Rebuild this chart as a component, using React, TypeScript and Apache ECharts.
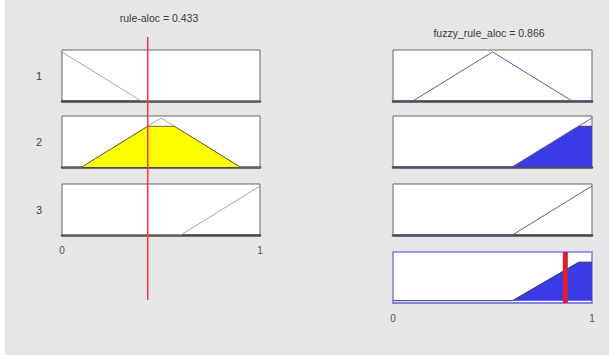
import React, { useEffect, useRef } from "react";
import * as echarts from "echarts";

// Input membership functions (rule-aloc), x in [0,1], y = membership degree
const inputMF1: number[][] = [[0, 1], [0.4, 0], [1, 0]];
const inputMF2: number[][] = [[0, 0], [0.1, 0], [0.5, 1], [0.9, 0], [1, 0]];
const inputMF3: number[][] = [[0, 0], [0.6, 0], [1, 1]];

// Output membership functions (fuzzy_rule_aloc)
const outputMF1: number[][] = [[0, 0], [0.1, 0], [0.5, 1], [0.9, 0], [1, 0]];
const outputMF2: number[][] = [[0, 0], [0.6, 0], [1, 1]];
const outputMF3: number[][] = [[0, 0], [0.6, 0], [1, 1]];

// Crisp values
const inputValue = 0.433;
const outputValue = 0.866;

// Rule 2 fires at 0.83: clipped input area, clipped output area, aggregate
const rule2InputFill: number[][] = [[0.1, 0], [0.433, 0.83], [0.567, 0.83], [0.9, 0]];
const rule2OutputFill: number[][] = [[0.6, 0], [0.933, 0.83], [1, 0.83]];
const aggregateFill: number[][] = [[0, 0], [0.6, 0], [0.933, 0.83], [1, 0.83]];

const ruleLabels = ["1", "2", "3"];
const tickLabels = ["0", "1"];

const FONT = "Liberation Sans, Arial, sans-serif";
const IN_LINE = "#aca882";
const OUT_LINE = "#5c5cb0";
const BLUE = "#3a3ae6";
const YELLOW = "#ffff00";

export default function App() {
  const ref = useRef<HTMLDivElement>(null);

  useEffect(() => {
    if (!ref.current) return;
    const chart = echarts.init(ref.current, null, { renderer: "svg" });

    const panels = [
      { left: 62, top: 50, width: 198, height: 51 },
      { left: 62, top: 116, width: 198, height: 51 },
      { left: 62, top: 184, width: 198, height: 51 },
      { left: 393, top: 50, width: 199, height: 51 },
      { left: 393, top: 116, width: 199, height: 51 },
      { left: 393, top: 184, width: 199, height: 51 },
      { left: 393, top: 252, width: 199, height: 51 },
    ];

    const grid: any[] = panels.map((p, i) => ({
      ...p,
      show: true,
      backgroundColor: "#ffffff",
      borderColor: i === 6 ? "#7c7ce2" : "#666666",
      borderWidth: i === 6 ? 1.5 : 1,
    }));
    // marker grid for the input line that spans the input column
    grid.push({ left: 62, top: 37, width: 198, height: 263, show: false });

    const xAxis: any[] = panels.map((_, i) => ({
      type: "value",
      gridIndex: i,
      min: 0,
      max: 1,
      interval: 1,
      axisLine: {
        show: true,
        onZero: false,
        lineStyle: i === 6 ? { color: "#7c7ce2", width: 1.5 } : { color: "#4a4a4a", width: 2.5 },
      },
      axisTick: { show: false },
      splitLine: { show: false },
      axisLabel: {
        show: i === 2 || i === 6,
        color: "#555",
        fontSize: 10,
        fontFamily: FONT,
        margin: 10,
        formatter: (v: number) => (v === 0 ? tickLabels[0] : tickLabels[1]),
      },
    }));
    xAxis.push({ type: "value", gridIndex: 7, min: 0, max: 1, show: false });

    const yAxis: any[] = panels.map((_, i) => ({
      type: "value",
      gridIndex: i,
      min: i === 6 ? -0.05 : 0,
      max: i === 6 ? 1.05 : 1.04,
      axisLine: { show: false },
      axisTick: { show: false },
      axisLabel: { show: false },
      splitLine: { show: false },
      name: i < 3 ? ruleLabels[i] : "",
      nameLocation: "middle",
      nameRotate: 0,
      nameGap: 20,
      nameTextStyle: { color: "#444", fontSize: 11, fontFamily: FONT },
    }));
    yAxis.push({ type: "value", gridIndex: 7, min: 0, max: 1, show: false });

    const line = (idx: number, data: number[][], color: string, width = 1) => ({
      type: "line",
      xAxisIndex: idx,
      yAxisIndex: idx,
      data,
      symbol: "none",
      silent: true,
      lineStyle: { color, width },
    });
    const fill = (idx: number, data: number[][], color: string, edge: string) => ({
      type: "line",
      xAxisIndex: idx,
      yAxisIndex: idx,
      data,
      symbol: "none",
      silent: true,
      lineStyle: { color: edge, width: 1 },
      areaStyle: { color, opacity: 1, origin: 0 },
    });

    const series: any[] = [
      line(0, inputMF1, IN_LINE),
      line(1, inputMF2, IN_LINE),
      fill(1, rule2InputFill, YELLOW, "#6b6b3e"),
      line(2, inputMF3, IN_LINE),
      line(3, outputMF1, OUT_LINE),
      fill(4, rule2OutputFill, BLUE, "#30308a"),
      line(4, outputMF2, OUT_LINE),
      line(5, outputMF3, OUT_LINE),
      fill(6, aggregateFill, BLUE, "#33335a"),
      line(6, [[outputValue, -0.05], [outputValue, 1.05]], "#dd2030", 5),
      line(7, [[inputValue, 0], [inputValue, 1]], "#ee3a4a", 1.5),
    ];

    chart.setOption({
      animation: false,
      backgroundColor: "transparent",
      grid,
      xAxis,
      yAxis,
      series,
      graphic: [
        {
          type: "text",
          x: 159,
          y: 18,
          style: {
            text: `rule-aloc = ${inputValue}`,
            fill: "#3a3a3a",
            font: `10.5px ${FONT}`,
            textAlign: "center",
            textVerticalAlign: "middle",
          },
        },
        {
          type: "text",
          x: 489,
          y: 33,
          style: {
            text: `fuzzy_rule_aloc = ${outputValue}`,
            fill: "#3a3a3a",
            font: `10.5px ${FONT}`,
            textAlign: "center",
            textVerticalAlign: "middle",
          },
        },
      ],
    });

    return () => chart.dispose();
  }, []);

  return (
    <div
      ref={ref}
      style={{
        position: "absolute",
        left: 0,
        top: 0,
        width: 609,
        height: 355,
        background: "linear-gradient(to right, #ffffff 0px, #ffffff 5px, #e6e6e6 5px)",
      }}
    />
  );
}
